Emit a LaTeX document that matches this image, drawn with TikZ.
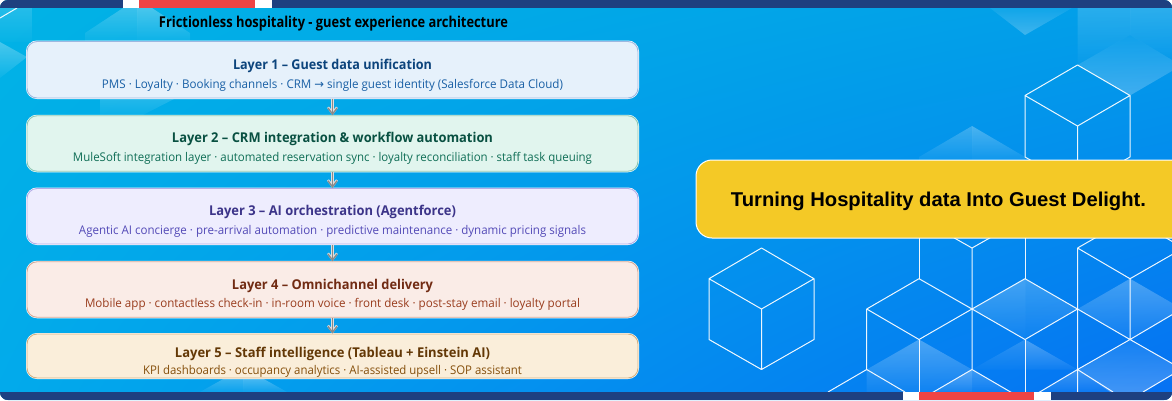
\documentclass[tikz,border=0pt]{standalone}
\usepackage{fontspec}
\usepackage{graphicx}
\usetikzlibrary{fadings,arrows.meta}
\setmainfont{Open Sans}
\newfontfamily\calloutfont{Liberation Sans}
\newfontfamily\symbolfont{DejaVu Sans}
% Set a text to an exact width while keeping its natural height
\newcommand{\fitw}[2]{\resizebox{#1pt}{\height}{#2}}
% Diagonal cyan-to-blue backdrop: four corner colours, bilinear mix
\pgfdeclarefunctionalshading{backdrop}{\pgfpoint{-50bp}{-50bp}}{\pgfpoint{50bp}{50bp}}{}{
  50 add 100 div exch 50 add 100 div exch
  1 index 0.04 mul 1 index 1 exch sub mul
  2 index -0.60 mul 0.80 add 2 index 1 exch sub mul 3 index -0.01 mul 0.72 add 3 index mul add
  3 index 0.09 mul 0.91 add 3 index 1 exch sub mul 4 index 0.0 mul 0.89 add 4 index mul add
  5 -2 roll pop pop
}
\tikzfading[name=fadedown, top color=transparent!72, bottom color=transparent!96]
\tikzfading[name=fadeup, top color=transparent!94, bottom color=transparent!76]
\definecolor{navy}{HTML}{1E4080}
\definecolor{barred}{HTML}{EF4444}
\definecolor{sun}{HTML}{F4C926}
\definecolor{linkgray}{HTML}{8A8A8A}
\definecolor{blueF}{HTML}{E6F1FB}\definecolor{blueB}{HTML}{9DB8E0}\definecolor{blueT}{HTML}{0C447C}\definecolor{blueS}{HTML}{185FA5}
\definecolor{tealF}{HTML}{E1F5EE}\definecolor{tealB}{HTML}{8CC9B4}\definecolor{tealT}{HTML}{085041}\definecolor{tealS}{HTML}{0F6E56}
\definecolor{purpF}{HTML}{EEEDFE}\definecolor{purpB}{HTML}{B3ADE6}\definecolor{purpT}{HTML}{3C3489}\definecolor{purpS}{HTML}{534AB7}
\definecolor{coraF}{HTML}{FAECE7}\definecolor{coraB}{HTML}{D4A896}\definecolor{coraT}{HTML}{712B13}\definecolor{coraS}{HTML}{993C1D}
\definecolor{ambrF}{HTML}{FAEEDA}\definecolor{ambrB}{HTML}{D4B080}\definecolor{ambrT}{HTML}{633806}\definecolor{ambrS}{HTML}{854F0B}
\tikzset{
  layerbox/.style 2 args={rectangle, rounded corners=10pt, fill=#1, draw=#2, line width=.9pt,
    minimum width=611pt, inner sep=0pt, outer sep=.5pt,
    preaction={draw=white, line width=2pt}},
  layertitle/.style={inner sep=0pt, font=\fontsize{13.5}{16}\selectfont\bfseries, text=#1},
  layersub/.style={inner sep=0pt, font=\fontsize{12}{14}\selectfont, text=#1},
  link/.style={draw=linkgray, line width=1.6pt, -{Straight Barb[length=6pt,width=9pt,line width=1.4pt]},
    preaction={draw=white!75!gray, line width=2.8pt, -{Straight Barb[length=6pt,width=9pt,line width=2.4pt]}}},
  wire/.style={draw=white, line width=1pt, opacity=.93, line join=round},
  glow/.style={fill=white, path fading=fadedown},
  glowup/.style={fill=white, path fading=fadeup}
}
\begin{document}
\begin{tikzpicture}[x=1pt,y=-1pt]
\useasboundingbox (0,0) rectangle (1172,400);
\fill[white] (0,0) rectangle (1172,400);
\begin{scope}
\clip[rounded corners=8pt] (0,0) rectangle (1172,400);
\fill[shading=backdrop] (0,0) rectangle (1172,400);

% Soft translucent facets
\fill[glow,opacity=.5] (0,8) -- (32,8) -- (32,42) -- (0,42) -- cycle;
\fill[glow] (0,42) -- (27,57) -- (0,78) -- cycle;
\fill[glow,opacity=.8] (85,33) -- (123,8) -- (137,8) -- (137,42) -- (85,42) -- cycle;
\fill[glow] (137,8) -- (152,8) -- (190,33) -- (190,42) -- (137,42) -- cycle;
\fill[glow,opacity=.5] (100,98) -- (176,98) -- (137,118) -- (100,118) -- cycle;
\fill[glow,opacity=.8] (200,392) -- (225,378) -- (243,378) -- (243,392) -- cycle;
\fill[glow] (243,378) -- (262,378) -- (287,392) -- (243,392) -- cycle;
\fill[glowup] (990,8) -- (1072,8) -- (1025,35) -- cycle;
\fill[glow,opacity=.55] (1077.5,8) -- (1130,8) -- (1130,35) -- (1077.5,65) -- cycle;
\fill[glow,opacity=.6] (1130,8) -- (1172,8) -- (1172,60) -- (1130,35) -- cycle;
\fill[glowup] (1130,35) -- (1077.5,65) -- (1130,95.5) -- (1172,71) -- (1172,60) -- cycle;
\fill[glow,opacity=.8] (972,126) -- (919,157) -- (919,162) -- (972,162) -- cycle;
\fill[glow] (972,126) -- (1025,157) -- (1025,162) -- (972,162) -- cycle;
% lower honeycomb facets
\fill[glow,opacity=.9] (1025,278.7) -- (972,309) -- (1025,339.5) -- cycle;
\fill[glow,opacity=.75] (1025,278.7) -- (1077.5,309) -- (1025,339.5) -- cycle;
\fill[glow] (919,339.5) -- (866.7,369.5) -- (866.7,392) -- (919,392) -- cycle;
\fill[glow] (919,339.5) -- (972,369.5) -- (972,392) -- (919,392) -- cycle;
\fill[glow,opacity=.55] (1025,339.5) -- (972,369.5) -- (1025,369.5) -- cycle;
\fill[glow] (1025,339.5) -- (1077.5,369.5) -- (1025,369.5) -- cycle;
\fill[glow,opacity=.9] (1130,278.7) -- (1077.5,309) -- (1130,339.5) -- cycle;
\fill[glow] (1130,278.7) -- (1172,303) -- (1172,315) -- (1130,339.5) -- cycle;
\fill[glowup] (1130,339.5) -- (1077.5,369.5) -- (1110,392) -- (1143,392) -- (1172,375) -- (1172,363) -- cycle;
\fill[glow,opacity=.8] (1077.5,369.5) -- (1040,392) -- (1110,392) -- cycle;
\fill[glow,opacity=.8] (972,369.5) -- (933,392) -- (1012,392) -- cycle;

% Wireframe cubes
\draw[wire] (0,18) -- (17,8);
\draw[wire] (1077.5,65) -- (1025,95.5) -- (1077.5,126) -- (1130,95.5) -- cycle
  (1025,95.5) -- (1025,157) -- (1077.5,187) -- (1130,157) -- (1130,95.5) (1077.5,126) -- (1077.5,187);
\draw[wire] (761.5,248) -- (709,278.7) -- (761.5,309) -- (814,278.7) -- cycle
  (709,278.7) -- (709,339.5) -- (761.5,369.5) -- (814,339.5) -- (814,278.7) (761.5,309) -- (761.5,369.5);
% Honeycomb at the lower right
\draw[wire] (919,220) -- (919,278.7);
\draw[wire] (919,278.7) -- (866.7,309) -- (919,339.5) -- (972,309) -- cycle;
\draw[wire] (1025,220) -- (1025,278.7);
\draw[wire] (1025,278.7) -- (972,309) -- (1025,339.5) -- (1077.5,309) -- cycle;
\draw[wire] (866.7,309) -- (866.7,369.5) -- (828,392) (866.7,369.5) -- (905,392);
\draw[wire] (919,339.5) -- (919,400);
\draw[wire] (919,218) -- (972,248) -- (1025,218) (972,248) -- (972,369.5) -- (930,394) (972,369.5) -- (1014,394);
\draw[wire] (1025,339.5) -- (1025,400);
\draw[wire] (1077.5,248) -- (1077.5,400) (1077.5,248) -- (1130,218) (1077.5,248) -- (1130,278.7) -- (1180,250);
\draw[wire] (1130,278.7) -- (1130,339.5) (1077.5,309) -- (1130,339.5) -- (1077.5,369.5) -- (1038,393)
  (1077.5,369.5) -- (1113,392) (1130,339.5) -- (1180,310) (1130,339.5) -- (1180,368) (1143,392) -- (1180,370);
\draw[wire] (1130,217) -- (1180,246);

% Top and bottom bands
\fill[navy] (0,0) rectangle (1172,8);
\fill[white] (123,0) rectangle (272,8);
\fill[barred] (139,0) rectangle (255,8);
\fill[navy] (0,392) rectangle (1172,400);
\fill[white] (903,392) rectangle (1051,400);
\fill[barred] (919,392) rectangle (1034,400);

% Callout panel
\node[name=callout, rectangle, rounded corners=16pt, fill=sun, draw=white, line width=1pt,
  minimum width=492pt, minimum height=78pt, inner sep=0pt] at (942,199) {};
\end{scope}

\node[name=callouttext, inner sep=0pt, text=black] at (938.5,201)
  {\fitw{415}{\calloutfont\fontsize{20}{24}\selectfont\bfseries Turning Hospitality data Into Guest Delight.}};

\node[name=heading, inner sep=0pt, text=black] at (333.5,24)
  {\fitw{349}{\fontsize{15}{18}\selectfont\bfseries Frictionless hospitality - guest experience architecture}};

% Stacked layers
\node[name=l1, layerbox={blueF}{blueB}, minimum height=56.5pt] at (332.5,69.75) {};
\node[name=l2, layerbox={tealF}{tealB}, minimum height=55.5pt] at (332.5,143.5) {};
\node[name=l3, layerbox={purpF}{purpB}, minimum height=55.5pt] at (332.5,216.25) {};
\node[name=l4, layerbox={coraF}{coraB}, minimum height=55.5pt] at (332.5,289.5) {};
\node[name=l5, layerbox={ambrF}{ambrB}, minimum height=44pt] at (332.5,356) {};

\node[name=t1, layertitle=blueT] at (332.5,65.5) {\fitw{199}{Layer 1 – Guest data unification}};
\node[name=s1, layersub=blueS] at (332.5,85) {\fitw{461}{PMS · Loyalty · Booking channels · CRM {\symbolfont →} single guest identity (Salesforce Data Cloud)}};
\node[name=t2, layertitle=tealT] at (332.5,139) {\fitw{321}{Layer 2 – CRM integration \& workflow automation}};
\node[name=s2, layersub=tealS] at (332.5,158.5) {\fitw{519}{MuleSoft integration layer · automated reservation sync · loyalty reconciliation · staff task queuing}};
\node[name=t3, layertitle=purpT] at (332.5,212) {\fitw{247}{Layer 3 – AI orchestration (Agentforce)}};
\node[name=s3, layersub=purpS] at (332.5,231.5) {\fitw{507}{Agentic AI concierge · pre-arrival automation · predictive maintenance · dynamic pricing signals}};
\node[name=t4, layertitle=coraT] at (332.5,285.5) {\fitw{201}{Layer 4 – Omnichannel delivery}};
\node[name=s4, layersub=coraS] at (332.5,304.5) {\fitw{495}{Mobile app · contactless check-in · in-room voice · front desk · post-stay email · loyalty portal}};
\node[name=t5, layertitle=ambrT] at (332.5,354) {\fitw{315}{Layer 5 – Staff intelligence (Tableau + Einstein AI)}};
\node[name=s5, layersub=ambrS] at (332.5,371) {\fitw{379}{KPI dashboards · occupancy analytics · AI-assisted upsell · SOP assistant}};

% Connectors between layers
\draw[link] (l1.south) -- (l2.north);
\draw[link] (l2.south) -- (l3.north);
\draw[link] (l3.south) -- (l4.north);
\draw[link] (l4.south) -- (l5.north);
\end{tikzpicture}
\end{document}
